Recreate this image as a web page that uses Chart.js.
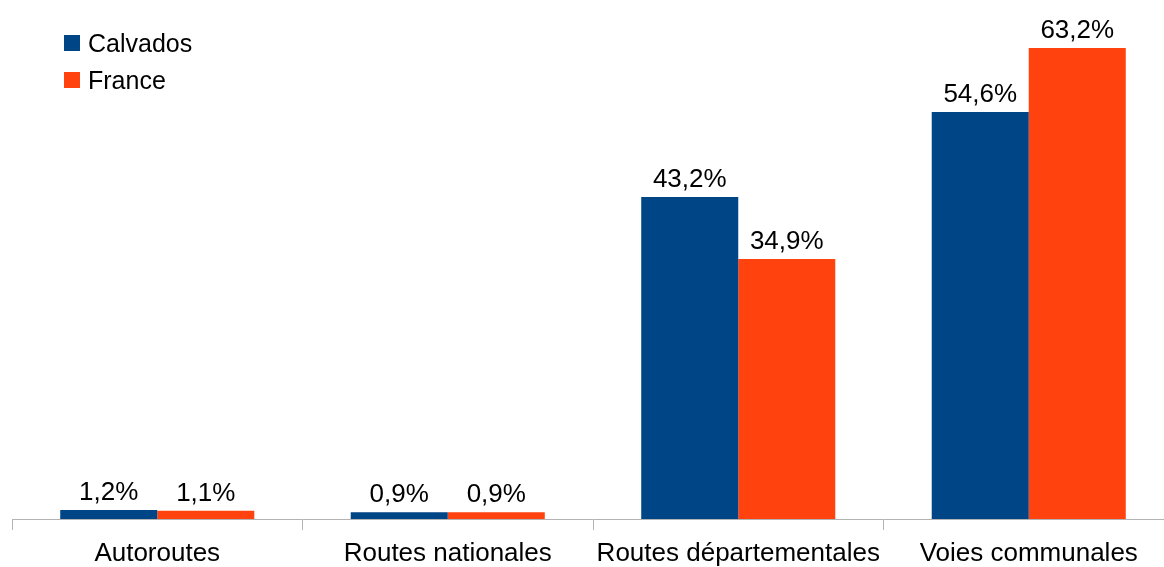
<!DOCTYPE html>
<html>
<head>
<meta charset="utf-8">
<script src="https://cdn.jsdelivr.net/npm/chart.js@4"></script>
<style>
  html, body { margin: 0; padding: 0; background: #fff; overflow: hidden; }
  #wrap { width: 1174px; height: 567px; }
</style>
</head>
<body>
<div id="wrap"><canvas id="barChart" width="1174" height="567"></canvas></div>
<script>
// Données (en %)
const categories = ['Autoroutes', 'Routes nationales', 'Routes départementales', 'Voies communales'];
const calvados = [1.2, 0.9, 43.2, 54.6];
const france = [1.1, 0.9, 34.9, 63.2];
const seriesNames = ['Calvados', 'France'];
const seriesColors = ['#004586', '#ff420e'];

const FONT = "'Liberation Sans', Arial, sans-serif";

// Étiquettes de valeur au-dessus des barres
const valueLabels = {
    id: 'valueLabels',
    afterDatasetsDraw(chart) {
        const ctx = chart.ctx;
        ctx.save();
        ctx.font = '26px ' + FONT;
        ctx.fillStyle = '#000';
        ctx.textAlign = 'center';
        ctx.textBaseline = 'alphabetic';
        chart.data.datasets.forEach((ds, i) => {
            chart.getDatasetMeta(i).data.forEach((bar, j) => {
                const txt = ds.data[j].toFixed(1).replace('.', ',') + '%';
                ctx.fillText(txt, bar.x, bar.y - 10);
            });
        });
        ctx.restore();
    }
};

// Légende verticale en haut à gauche
const cornerLegend = {
    id: 'cornerLegend',
    afterDraw(chart) {
        const ctx = chart.ctx;
        ctx.save();
        ctx.font = '25px ' + FONT;
        ctx.textBaseline = 'alphabetic';
        chart.data.datasets.forEach((ds, i) => {
            const y = 35 + i * 37;
            ctx.fillStyle = ds.backgroundColor;
            ctx.fillRect(64, y, 16, 16);
            ctx.fillStyle = '#000';
            ctx.fillText(ds.label, 88, y + 17);
        });
        ctx.restore();
    }
};

const chart = new Chart(document.getElementById('barChart'), {
    type: 'bar',
    data: {
        labels: categories,
        datasets: [
            { label: seriesNames[0], data: calvados, backgroundColor: seriesColors[0] },
            { label: seriesNames[1], data: france, backgroundColor: seriesColors[1] }
        ]
    },
    options: {
        responsive: false,
        animation: false,
        datasets: { bar: { categoryPercentage: 0.668, barPercentage: 1.0 } },
        layout: { padding: { left: 12, right: 0, top: 34.6, bottom: 0 } },
        plugins: {
            legend: { display: false },
            tooltip: { enabled: false }
        },
        scales: {
            y: {
                display: false,
                min: 0,
                max: 65
            },
            x: {
                afterFit(scale) { scale.height = 48; },
                grid: {
                    offset: true,
                    drawOnChartArea: false,
                    color: '#b3b3b3',
                    tickLength: 11
                },
                border: { color: '#b3b3b3', width: 1 },
                ticks: {
                    color: '#000',
                    padding: 8,
                    maxRotation: 0,
                    font: { size: 26, family: FONT }
                }
            }
        }
    },
    plugins: [valueLabels, cornerLegend]
});
</script>
</body>
</html>
